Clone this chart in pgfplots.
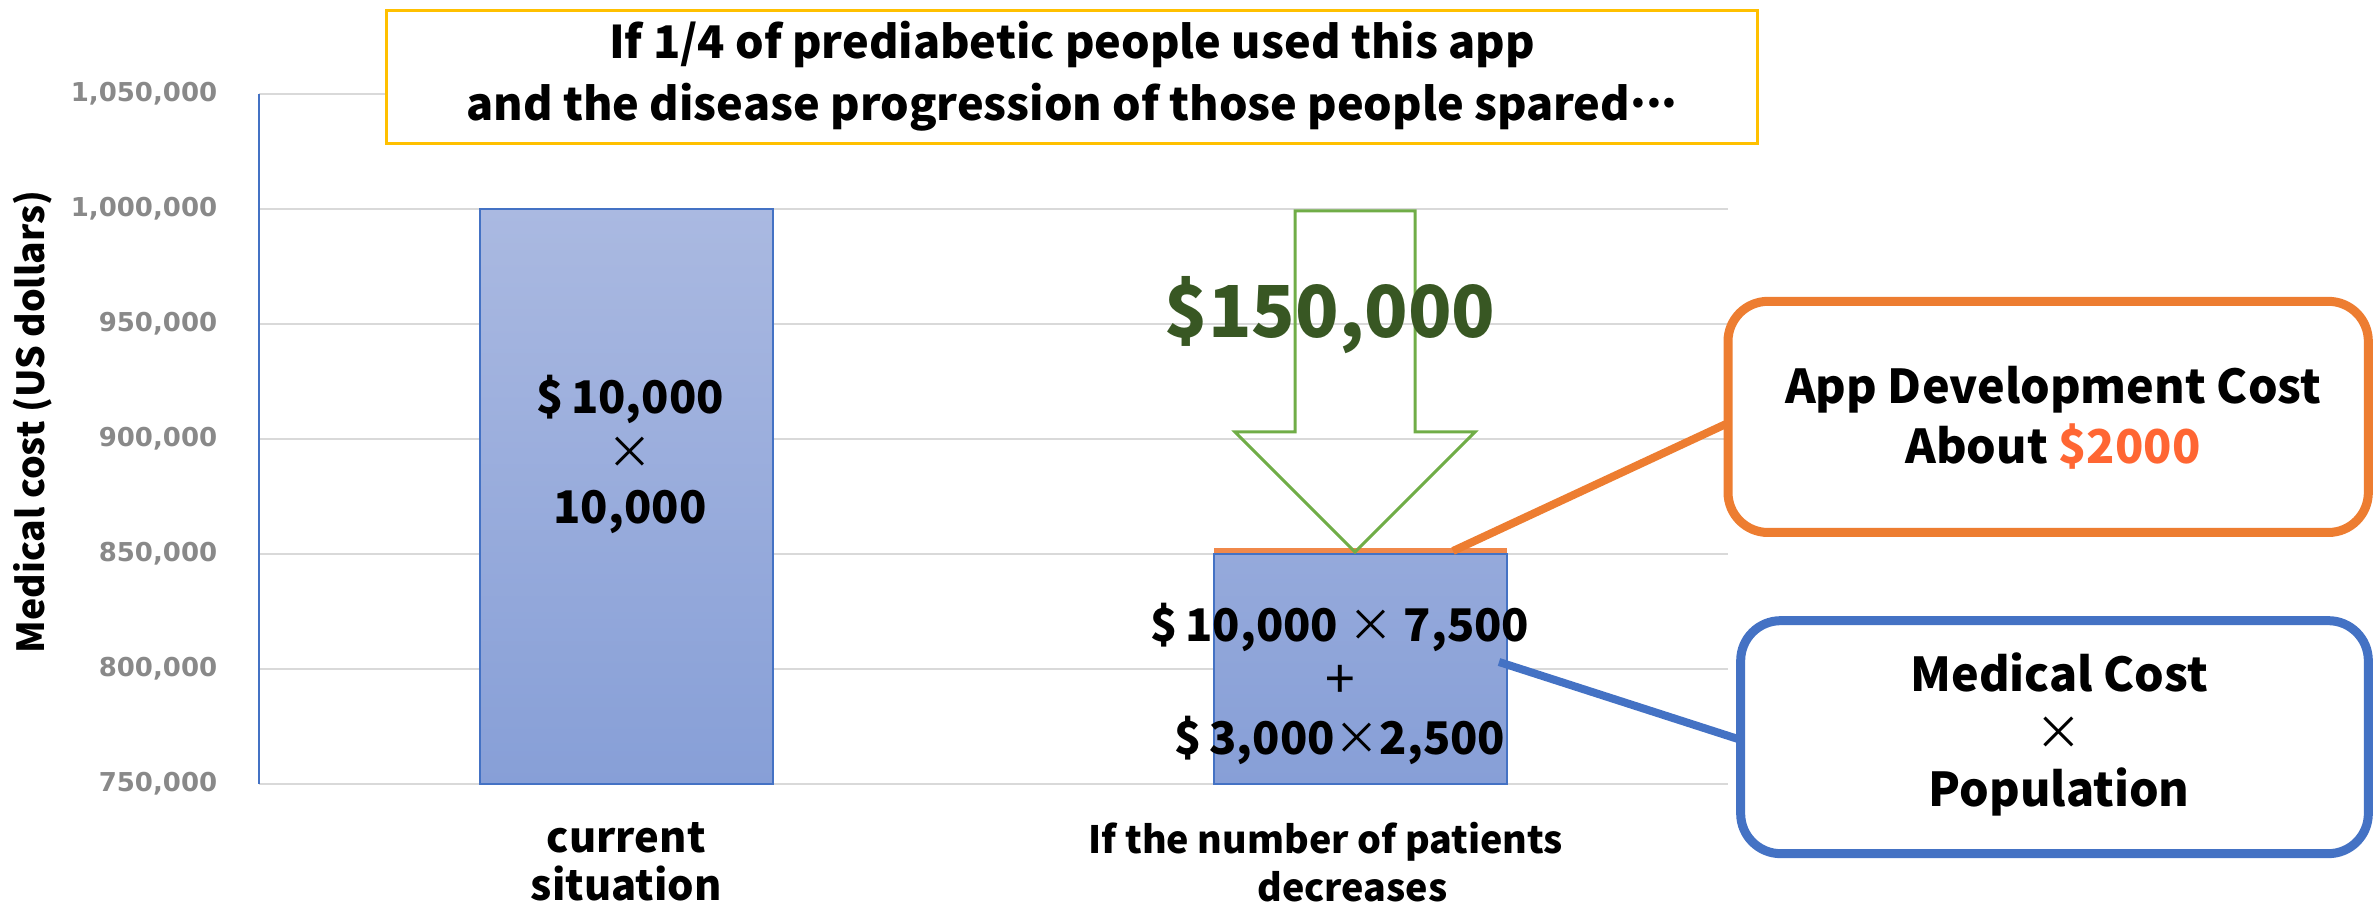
\documentclass[border=0pt]{standalone}
\usepackage{fontspec}
\setmainfont{Noto Sans CJK JP}
\newfontfamily\tickfont{DejaVu Sans}
\usepackage{pgfplots}
\pgfplotsset{compat=1.18}
\definecolor{barTop}{HTML}{AAB9E1}
\definecolor{barBot}{HTML}{879FD7}
\definecolor{barEdge}{HTML}{4472C4}
\definecolor{appOrange}{HTML}{ED7D31}
\definecolor{appOrangeFill}{HTML}{F0884A}
\definecolor{gridgray}{HTML}{D9D9D9}
\definecolor{tickgray}{HTML}{898989}
\definecolor{titleYellow}{HTML}{FFC000}
\definecolor{arrowGreen}{HTML}{70AD47}
\definecolor{dkGreen}{HTML}{385723}
\definecolor{priceRed}{HTML}{FF6633}
\begin{document}
\begin{tikzpicture}[x=1pt,y=1pt]
\useasboundingbox (0,0) rectangle (712.2,273);
\begin{axis}[
  at={(77.7pt,37.8pt)}, anchor=south west,
  scale only axis, width=440.7pt, height=207pt,
  xmin=-0.5, xmax=1.5, ymin=0, ymax=300000,
  ybar stacked, bar width=87.9pt,
  axis lines=left,
  x axis line style={draw=none},
  y axis line style={draw=barEdge, line width=0.8pt, -},
  tick style={draw=none},
  major tick length=0pt,
  scaled y ticks=false,
  ytick={0,50000,100000,150000,200000,250000,300000},
  yticklabels={{750,000},{800,000},{850,000},{900,000},{950,000},{1,000,000},{1,050,000}},
  yticklabel style={font=\tickfont\bfseries\fontsize{7.8}{9}\selectfont, text=tickgray, anchor=east, xshift=-9pt},
  xtick={0,1},
  xticklabels={{\fontsize{12.5}{14.5}\selectfont current\\[2.4pt]\fontsize{12.5}{14.5}\selectfont situation},
               {\fontsize{11.3}{14.5}\selectfont\hspace*{-21pt}If the number of patients\\[2.2pt]\fontsize{11.3}{14.5}\selectfont\hspace*{-5pt}decreases}},
  xticklabel style={align=center, anchor=north, yshift=-8pt, font=\bfseries},
  ymajorgrids, grid style={draw=gridgray, line width=0.6pt},
  clip=false,
]
\addplot[draw=barEdge, line width=0.6pt, top color=barTop, bottom color=barBot,
  y filter/.expression={y-750000}]
  coordinates {(0,1000000) (1,850000)};
\addplot[draw=none, fill=appOrangeFill]
  coordinates {(0,0) (1,2500)};
\end{axis}
% bar annotations
\node[align=center, font=\fontsize{13.5}{16.5}\selectfont\bfseries] at (189,136.8) {\$\,10,000\\{\mdseries ×}\\10,000};
\node[align=center, font=\fontsize{13.5}{17}\selectfont\bfseries] at (402,67.8) {\$\,10,000 {\mdseries ×} 7,500\\{\mdseries\fontsize{16}{17}\selectfont +}\\\$\,3,000{\mdseries ×}2,500};
% title box
\draw[titleYellow, line width=0.8pt, fill=white] (115.9,229.9) rectangle (527.3,269.9);
\node[align=center, font=\fontsize{13.5}{18.6}\selectfont\bfseries] at (321.6,250.2) {If 1/4 of prediabetic people used this app\\and the disease progression of those people spared\raisebox{0.28em}{...}};
% y label
\node[rotate=90, font=\fontsize{11.2}{13}\selectfont\bfseries] at (9.9,146.4) {Medical cost (US dollars)};
% arrow
\draw[arrowGreen, line width=0.9pt, line join=miter] (388.5,209.7) -- (424.5,209.7) -- (424.5,143.4) -- (442.5,143.4) -- (406.5,107.4) -- (370.5,143.4) -- (388.5,143.4) -- cycle;
\node[font=\fontsize{21.5}{26}\selectfont\bfseries, text=dkGreen] at (399,178.5) {\$150,000};
% connectors
\draw[appOrange, line width=2.4pt] (435.9,107.7) -- (517.8,145.8);
\draw[barEdge, line width=2.4pt] (449.7,74.4) -- (521.4,51.3);
% callout boxes
\draw[appOrange, line width=2.7pt, fill=white, rounded corners=12pt] (518.4,113.25) rectangle (710.5,182.6);
\node[align=center, font=\fontsize{14}{18}\selectfont\bfseries] at (615.9,147.6) {App Development Cost\\About \textcolor{priceRed}{\$2000}};
\draw[barEdge, line width=2.7pt, fill=white, rounded corners=12pt] (522.2,16.9) rectangle (710.5,86.8);
\node[align=center, font=\fontsize{14}{17.3}\selectfont\bfseries] at (617.7,52.6) {Medical Cost\\{\mdseries ×}\\Population};
\end{tikzpicture}
\end{document}
